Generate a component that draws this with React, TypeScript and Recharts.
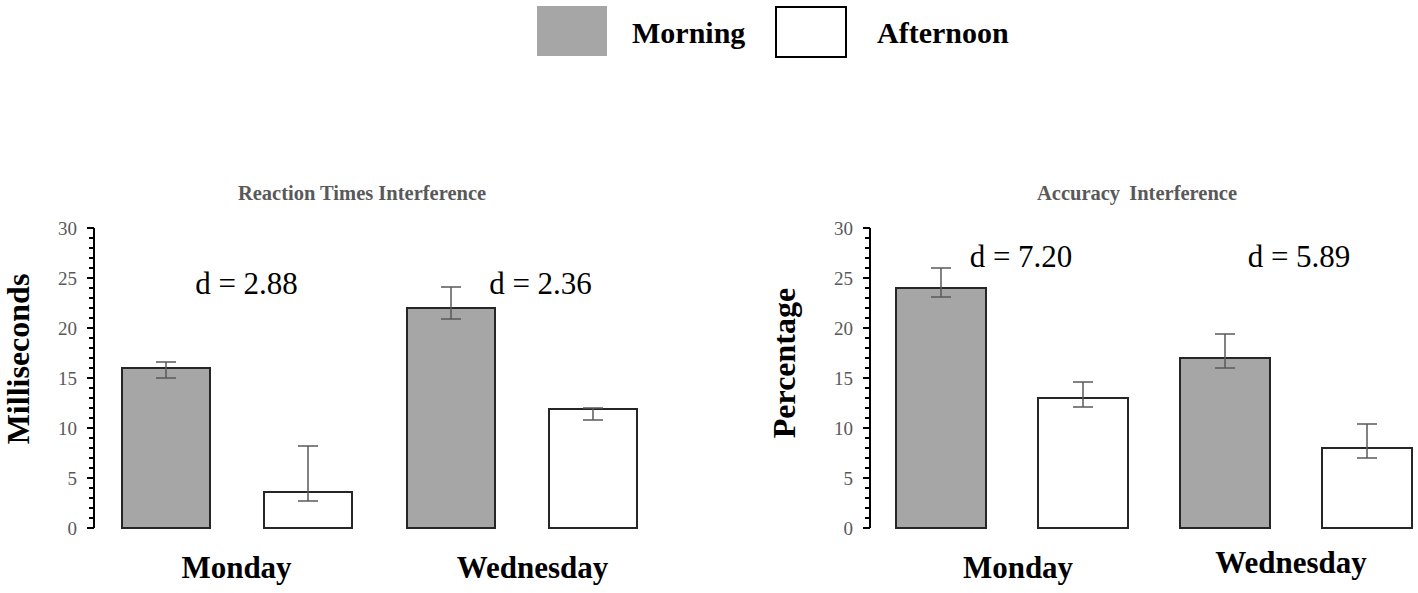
import { Bar, BarChart, ErrorBar, ReferenceDot, XAxis, YAxis } from 'recharts';

const SERIF = "'Liberation Serif', 'Times New Roman', serif";

const days = ['Monday', 'Wednesday'];

// Reaction times interference (ms)
const rtMorning = [16, 22];
const rtAfternoon = [3.6, 11.9];
const rtMorningErr: [number, number][] = [
  [1.0, 0.6],
  [1.1, 2.1],
];
const rtAfternoonErr: [number, number][] = [
  [0.9, 4.6],
  [1.1, 0.1],
];
const rtEffect = ['d = 2.88', 'd = 2.36'];

// Accuracy interference (%)
const accMorning = [24, 17];
const accAfternoon = [13, 8];
const accMorningErr: [number, number][] = [
  [0.9, 2.0],
  [1.0, 2.4],
];
const accAfternoonErr: [number, number][] = [
  [0.9, 1.6],
  [1.0, 2.4],
];
const accEffect = ['d = 7.20', 'd = 5.89'];

const yTicks = [
  0, 1, 2, 3, 4, 5, 6, 7, 8, 9, 10, 11, 12, 13, 14, 15, 16, 17, 18, 19, 20, 21, 22, 23, 24, 25, 26,
  27, 28, 29, 30,
];

interface Row {
  day: string;
  morning: number;
  afternoon: number;
  morningErr: [number, number];
  afternoonErr: [number, number];
}

function buildRows(
  morning: number[],
  afternoon: number[],
  mErr: [number, number][],
  aErr: [number, number][],
): Row[] {
  return days.map((day, i) => ({
    day,
    morning: morning[i],
    afternoon: afternoon[i],
    morningErr: mErr[i],
    afternoonErr: aErr[i],
  }));
}

const rtRows = buildRows(rtMorning, rtAfternoon, rtMorningErr, rtAfternoonErr);
const accRows = buildRows(accMorning, accAfternoon, accMorningErr, accAfternoonErr);

function YTick(props: any) {
  const { x, y, payload } = props;
  const major = payload.value % 5 === 0;
  return (
    <g>
      <line x1={x - (major ? 7 : 5)} x2={x} y1={y} y2={y} stroke="#000" strokeWidth={2} />
      {major && (
        <text x={x - 17} y={y} dy={6.5} textAnchor="end" fontSize={19} fill="#595959" fontFamily={SERIF}>
          {payload.value}
        </text>
      )}
    </g>
  );
}

interface ChartProps {
  rows: Row[];
  left: number;
  width: number;
  marginLeft: number;
  barSize: number;
  barGap: number;
  effects: string[];
  effectY: number;
  effectDx: number[];
  tickNudge: { dx: number; dy: number }[];
}

function InterferenceChart({
  rows,
  left,
  width,
  marginLeft,
  barSize,
  barGap,
  effects,
  effectY,
  effectDx,
  tickNudge,
}: ChartProps) {
  const XTick = (props: any) => {
    const { x, y, payload, index } = props;
    const n = tickNudge[index] ?? { dx: 0, dy: 0 };
    return (
      <text
        x={x + n.dx}
        y={y + 50 + n.dy}
        textAnchor="middle"
        fontSize={31}
        fontWeight="bold"
        fill="#000"
        fontFamily={SERIF}
      >
        {payload.value}
      </text>
    );
  };

  return (
    <div style={{ position: 'absolute', left, top: 170 }}>
      <BarChart
        width={width}
        height={423}
        data={rows}
        margin={{ top: 58, right: 0, bottom: 0, left: marginLeft }}
        barSize={barSize}
        barGap={barGap}
      >
        <XAxis
          dataKey="day"
          height={65}
          axisLine={false}
          tickLine={false}
          tickSize={0}
          tickMargin={0}
          tick={<XTick />}
          interval={0}
        />
        <YAxis
          width={60}
          domain={[0, 30]}
          ticks={yTicks}
          interval={0}
          axisLine={{ stroke: '#000', strokeWidth: 2 }}
          tickLine={false}
          tickSize={0}
          tickMargin={0}
          tick={<YTick />}
        />
        <Bar dataKey="morning" fill="#a6a6a6" stroke="#262626" strokeWidth={2} isAnimationActive={false}>
          <ErrorBar dataKey="morningErr" width={10} stroke="#595959" strokeWidth={1.5} isAnimationActive={false} />
        </Bar>
        <Bar dataKey="afternoon" fill="#ffffff" stroke="#262626" strokeWidth={2} isAnimationActive={false}>
          <ErrorBar dataKey="afternoonErr" width={10} stroke="#595959" strokeWidth={1.5} isAnimationActive={false} />
        </Bar>
        {effects.map((label, i) => (
          <ReferenceDot
            key={label}
            x={days[i]}
            y={effectY}
            r={0}
            shape={(p: any) => (
              <text x={p.cx + effectDx[i]} y={p.cy} textAnchor="middle" fontSize={31} fill="#000" fontFamily={SERIF}>
                {label}
              </text>
            )}
          />
        ))}
      </BarChart>
    </div>
  );
}

export default function App() {
  return (
    <div
      style={{
        position: 'fixed',
        left: 0,
        top: 0,
        width: 1418,
        height: 593,
        overflow: 'hidden',
        background: '#fff',
        fontFamily: SERIF,
      }}
    >
      <InterferenceChart
        rows={rtRows}
        left={0}
        width={664}
        marginLeft={34}
        barSize={88}
        barGap={54}
        effects={rtEffect}
        effectY={23.4}
        effectDx={[10, 19]}
        tickNudge={[
          { dx: 0, dy: 0 },
          { dx: 11, dy: 0 },
        ]}
      />
      <InterferenceChart
        rows={accRows}
        left={760}
        width={678}
        marginLeft={50}
        barSize={90}
        barGap={52}
        effects={accEffect}
        effectY={26.1}
        effectDx={[9, 3]}
        tickNudge={[
          { dx: 6, dy: 0 },
          { dx: -5, dy: -5 },
        ]}
      />

      <svg width={1418} height={593} style={{ position: 'absolute', left: 0, top: 0, pointerEvents: 'none' }}>
        <rect x={537} y={6} width={70} height={50} fill="#a6a6a6" />
        <text x={632} y={43} fontSize={30} fontWeight="bold" fontFamily={SERIF}>
          Morning
        </text>
        <rect x={776} y={7} width={70} height={50} fill="#fff" stroke="#000" strokeWidth={2} />
        <text x={877} y={43} fontSize={30} fontWeight="bold" fontFamily={SERIF}>
          Afternoon
        </text>
        <text x={362} y={200} textAnchor="middle" fontSize={20.5} fontWeight="bold" fill="#595959" fontFamily={SERIF}>
          Reaction Times Interference
        </text>
        <text
          x={1137}
          y={200}
          textAnchor="middle"
          fontSize={20.5}
          fontWeight="bold"
          fill="#595959"
          fontFamily={SERIF}
          style={{ wordSpacing: 4 }}
        >
          Accuracy Interference
        </text>
        <text transform="translate(29,359) rotate(-90)" textAnchor="middle" fontSize={32} fontWeight="bold" fontFamily={SERIF}>
          Milliseconds
        </text>
        <text transform="translate(795,363) rotate(-90)" textAnchor="middle" fontSize={32} fontWeight="bold" fontFamily={SERIF}>
          Percentage
        </text>
      </svg>
    </div>
  );
}
